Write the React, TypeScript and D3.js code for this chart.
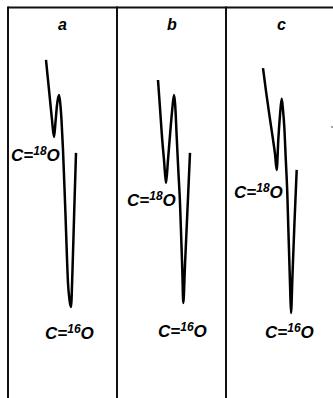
// App.tsx
import React from 'react';
import * as d3 from 'd3';

const width = 333;
const height = 398;
const frameTop = 7.5;
const panelLefts = [8, 117, 226];
const traceOffset = 30; // distance of trace scale origin from panel line

const panelNames = ['a', 'b', 'c'];

// relative frequency (arbitrary units) and transmittance (%) for each recording
const freqA = [8, 10, 12, 14, 16, 17.5, 19, 21, 22.2, 23.5, 25, 26.3, 27.5, 28.7, 30, 31.5, 33, 34.5, 36.2, 38];
const transA = [96.3, 88.9, 81.5, 74.1, 67.8, 73.3, 79.6, 83.3, 80.4, 74.1, 63.0, 50.7, 38.9, 25.9, 13.7, 7.4, 4.8, 18.5, 40.0, 61.9];

const freqB = [11, 13, 15, 17, 19, 21, 23, 25, 27, 28.2, 29.7, 31.3, 33, 34.2, 35.3, 36.3, 38, 40.5, 43];
const transB = [88.9, 78.5, 67.8, 59.3, 50.7, 59.3, 68.5, 77.0, 83.3, 79.6, 67.8, 55.6, 43.3, 30.7, 18.5, 6.3, 20.4, 41.1, 61.9];

const freqC = [7, 10, 13.5, 16.5, 19, 20.7, 22.3, 24, 25.7, 27, 28.3, 29.8, 31.3, 32.3, 33.3, 34.2, 35, 36.5, 38.5, 40.7];
const transC = [93.3, 84.8, 75.6, 68.1, 61.5, 55.6, 66.7, 75.9, 81.9, 77.8, 71.5, 59.3, 47.0, 34.4, 22.2, 11.1, 2.6, 16.7, 36.3, 55.6];

const freqs = [freqA, freqB, freqC];
const trans = [transA, transB, transC];

// label layout: [x, baseline] for C=18O and C=16O
const label18 = [[11, 161], [127, 206], [234, 198]];
const label16 = [[45, 339], [158, 337], [265, 338]];
const nameX = [58, 167, 277];

const fontFamily = '"Liberation Sans", Arial, sans-serif';

const IsoLabel = ({ x, y, mass }: { x: number; y: number; mass: string }) => (
  <text x={x} y={y} fontFamily={fontFamily} fontStyle="italic" fontWeight="bold" fontSize={17} fill="#000">
    C=
    <tspan fontSize={12} dy={-6}>{mass}</tspan>
    <tspan dy={6}>O</tspan>
  </text>
);

const App = () => {
  const yScale = d3.scaleLinear().domain([0, 100]).range([320, 50]);

  return (
    <svg width={width} height={height} style={{ position: 'absolute', left: 0, top: 0, background: '#fff' }}>
      <line x1={panelLefts[0]} x2={width} y1={frameTop} y2={frameTop} stroke="#111" strokeWidth={2} />
      {panelLefts.map((x, i) => (
        <line key={i} x1={x} x2={x} y1={frameTop - 1} y2={height} stroke="#111" strokeWidth={2} />
      ))}
      {panelLefts.map((left, i) => {
        const xScale = d3.scaleLinear().domain([0, 50]).range([left + traceOffset, left + traceOffset + 50]);
        const line = d3
          .line<number>()
          .x((d) => xScale(d))
          .y((d, j) => yScale(trans[i][j]))
          .curve(d3.curveMonotoneX);
        return (
          <g key={i}>
            <path d={line(freqs[i]) || ''} fill="none" stroke="#000" strokeWidth={2.5} strokeLinejoin="round" />
            <text x={nameX[i]} y={30} fontFamily={fontFamily} fontStyle="italic" fontWeight="bold" fontSize={16}>
              {panelNames[i]}
            </text>
            <IsoLabel x={label18[i][0]} y={label18[i][1]} mass="18" />
            <IsoLabel x={label16[i][0]} y={label16[i][1]} mass="16" />
          </g>
        );
      })}
      <circle cx={332} cy={127} r={0.8} fill="#333" />
    </svg>
  );
};

export default App;
